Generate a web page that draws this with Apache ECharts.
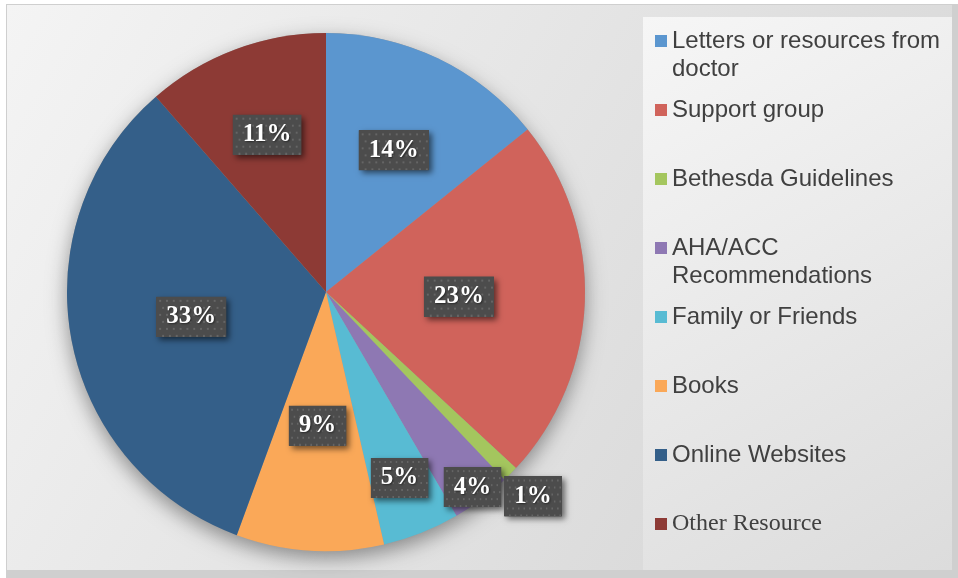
<!DOCTYPE html>
<html><head><meta charset="utf-8">
<script src="https://cdn.jsdelivr.net/npm/echarts@6/dist/echarts.min.js"></script>
<style>html,body{margin:0;padding:0;background:#fff}#c{width:958px;height:578px}</style>
</head><body><div id="c"></div><script>
// ---- data ----
const categories = ['Letters or resources from doctor','Support group','Bethesda Guidelines','AHA/ACC Recommendations','Family or Friends','Books','Online Websites','Other Resource'];
const legendLabels = ['Letters or resources from\ndoctor','Support group','Bethesda Guidelines','AHA/ACC\nRecommendations','Family or Friends','Books','Online Websites','Other Resource'];
const shares = [14.2, 22.7, 1.0, 3.7, 4.8, 9.2, 33.0, 11.4];

// ---- styling / layout config ----
const colors = ['#5B96CF','#D0635B','#A4C65E','#8E78B3','#58BBD3','#FAA858','#345F89','#8D3A35'];
const labelRadii = [154,130,288,241,197,131,134,165];
const CENTER = [326, 292];
const RADIUS = 259;

// dotted pattern for label boxes
const pat = document.createElement('canvas');
pat.width = 72; pat.height = 40;
(function(){
  const g = pat.getContext('2d');
  g.fillStyle = '#4c4c4c'; g.fillRect(0,0,72,40);
  g.fillStyle = '#656565';
  for (let j = 0; j < 6; j++) for (let i = 0; i < 11; i++) {
    g.fillRect(3 + i*7 + (j%2 ? 3 : 0), 3 + j*7, 2, 2);
  }
})();

const chart = echarts.init(document.getElementById('c'));

const pieData = categories.map((n,i)=>({name:n, value:shares[i], itemStyle:{color:colors[i]}}));

const baseLabel = {
  show: true,
  position: 'inside',
  formatter: p => Math.round(p.percent) + '%',
  fontFamily: 'Liberation Serif',
  fontWeight: 'bold',
  fontSize: 25,
  lineHeight: 27,
  padding: [7, 10, 6, 10]
};
// layer 1: solid box with drop shadow
const shadowLabel = Object.assign({}, baseLabel, {
  color: 'rgba(0,0,0,0)',
  backgroundColor: '#4c4c4c',
  shadowColor: 'rgba(0,0,0,0.55)',
  shadowBlur: 6,
  shadowOffsetX: 3,
  shadowOffsetY: 3
});
// layer 2: dotted box with white text
const topLabel = Object.assign({}, baseLabel, {
  color: '#fff',
  backgroundColor: {image: pat},
  textShadowColor: 'rgba(0,0,0,0.5)',
  textShadowBlur: 2,
  textShadowOffsetX: 1,
  textShadowOffsetY: 1
});

const uniqueR = [...new Set(labelRadii)];
function labelLayer(lbl, z) {
  return uniqueR.map(r => ({
    type: 'pie', center: CENTER, radius: [0, 2*r], startAngle: 90, clockwise: true,
    silent: true, z: z, emphasis: {disabled: true}, labelLine: {show:false},
    avoidLabelOverlap: false, labelLayout: {hideOverlap: false},
    itemStyle: {color: 'rgba(0,0,0,0)', borderWidth: 0},
    label: lbl,
    data: categories.map((n,i)=>({name:n, value:shares[i], label:{show: labelRadii[i] === r}}))
  }));
}

// legend text: pad every entry to 3 lines so that the first text line sits level with the icon
function legendText(i) {
  const parts = legendLabels[i].split('\n');
  return parts.length === 2 ? '\n' + parts.join('\n') : '\n' + parts[0] + '\n';
}

const option = {
  backgroundColor: '#ffffff',
  animation: false,
  graphic: {elements: [
    {type:'rect', z:0, silent:true, shape:{x:6,y:4,width:952,height:574}, style:{fill:'#cfcfcf'}},
    {type:'rect', z:0, silent:true, shape:{x:7,y:5,width:945,height:565},
      style:{fill:new echarts.graphic.LinearGradient(0,0,1,1,[{offset:0,color:'#f4f4f4'},{offset:1,color:'#d3d3d3'}])}},
    {type:'rect', z:0, silent:true, shape:{x:643,y:17,width:309,height:553},
      style:{fill:new echarts.graphic.LinearGradient(0,0,1,1,[{offset:0,color:'#f6f6f6'},{offset:1,color:'#dcdcdc'}])}}
  ]},
  legend: {
    orient: 'vertical', left: 655, top: -1, padding: 0, itemGap: -15,
    itemWidth: 12, itemHeight: 12, icon: 'rect', selectedMode: false,
    formatter: n => legendText(categories.indexOf(n)),
    textStyle: {fontSize: 24, lineHeight: 28, color: '#404040', fontFamily: 'Liberation Sans'},
    data: categories.map((n,i)=>({name: n, textStyle: {
        fontFamily: i === 7 ? 'Liberation Serif' : 'Liberation Sans'
      }}))
  },
  series: [
    {type:'pie', name:'main', center: CENTER, radius: RADIUS, startAngle: 90, clockwise: true,
     z: 3, silent: true, emphasis:{disabled:true}, label:{show:false}, labelLine:{show:false},
     itemStyle:{borderWidth:0}, data: pieData},
    {type:'pie', name:'shadow', center: CENTER, radius: RADIUS, z: 2, silent: true,
     emphasis:{disabled:true}, label:{show:false}, labelLine:{show:false},
     itemStyle:{color:'#9a9a9a', shadowColor:'rgba(0,0,0,0.4)', shadowBlur:20, shadowOffsetY:7},
     data:[{name:'', value:1}]}
  ].concat(labelLayer(shadowLabel, 4), labelLayer(topLabel, 5))
};
chart.setOption(option);
</script></body></html>
